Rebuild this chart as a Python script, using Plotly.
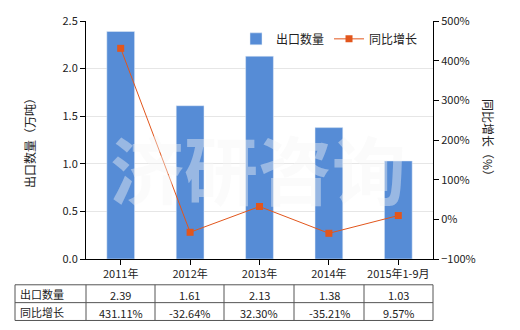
import plotly.graph_objects as go

categories = ["2011年", "2012年", "2013年", "2014年", "2015年1-9月"]
export_qty = [2.39, 1.61, 2.13, 1.38, 1.03]
yoy_growth = [431.11, -32.64, 32.30, -35.21, 9.57]
qty_labels = ["2.39", "1.61", "2.13", "1.38", "1.03"]
yoy_labels = ["431.11%", "-32.64%", "32.30%", "-35.21%", "9.57%"]

W, H = 520, 330
L, R, T, B = 86, 433, 19, 259
FONT = "Noto Sans CJK SC, Microsoft YaHei, sans-serif"
BAR = "#568cd6"
LINE = "#e2561c"

def px(x):
    return (x - L) / (R - L)

def py(y):
    return (B - y) / (B - T)

fig = go.Figure()
fig.add_trace(go.Bar(x=categories, y=export_qty, name="出口数量", marker_color=BAR,
                     width=0.4, yaxis="y"))
fig.add_trace(go.Scatter(x=categories, y=yoy_growth, name="同比增长", mode="lines+markers",
                         line=dict(color=LINE, width=1), marker=dict(symbol="square", size=7, color=LINE),
                         yaxis="y2"))

shapes = []
ann = []
# watermark
ann.append(dict(x=px(258), y=py(166), xref="paper", yref="paper", text="<b>济研咨询</b>", showarrow=False,
                font=dict(family=FONT, size=74, color="rgba(245,245,245,0.42)"), xanchor="center", yanchor="middle"))
# table
cols = [15, 86, 155, 224, 294, 364, 433]
rows = [285, 303, 321]
lc = "#555555"
for r in rows:
    shapes.append(dict(type="line", xref="paper", yref="paper", x0=px(cols[0]), x1=px(cols[-1]), y0=py(r), y1=py(r),
                       line=dict(color=lc, width=1)))
for c in cols:
    shapes.append(dict(type="line", xref="paper", yref="paper", x0=px(c), x1=px(c), y0=py(rows[0]), y1=py(rows[-1]),
                       line=dict(color=lc, width=1)))
row_heads = ["出口数量", "同比增长"]
for i, (h, vals) in enumerate(zip(row_heads, [qty_labels, yoy_labels])):
    yc = (rows[i] + rows[i + 1]) / 2
    ann.append(dict(x=px(cols[0] + 3), y=py(yc), xref="paper", yref="paper", text=h, showarrow=False,
                    xanchor="left", yanchor="middle", font=dict(family=FONT, size=11, color="#222")))
    for j, v in enumerate(vals):
        xc = (cols[j + 1] + cols[j + 2]) / 2
        ann.append(dict(x=px(xc), y=py(yc + 1), xref="paper", yref="paper", text=v, showarrow=False,
                        xanchor="center", yanchor="middle", font=dict(family=FONT, size=11, color="#222")))
# axis titles
ann.append(dict(x=px(29), y=py(139), xref="paper", yref="paper", text="出口数量（万吨）", showarrow=False,
                textangle=-90, font=dict(family=FONT, size=12, color="#222"), xanchor="center", yanchor="middle"))
ann.append(dict(x=px(489), y=py(139), xref="paper", yref="paper", text="同比增长（%）", showarrow=False,
                textangle=90, font=dict(family=FONT, size=12, color="#222"), xanchor="center", yanchor="middle"))

fig.update_layout(
    width=W, height=H,
    margin=dict(l=L, r=W - R, t=T, b=H - B),
    paper_bgcolor="white", plot_bgcolor="white",
    font=dict(family=FONT, size=11, color="#222"),
    showlegend=True,
    legend=dict(orientation="h", x=px(236), y=py(37), xanchor="left", yanchor="middle",
                font=dict(family=FONT, size=12, color="#222"), bgcolor="rgba(0,0,0,0)",
                itemwidth=30, traceorder="normal"),
    xaxis=dict(showline=True, linecolor="black", linewidth=1, ticks="outside", ticklen=5,
               tickcolor="black", showgrid=False, tickfont=dict(size=11)),
    yaxis=dict(range=[0, 2.5], dtick=0.5, tickformat=".1f", showline=True, linecolor="black", ticks="outside",
               ticklen=5, tickcolor="black", showgrid=True, gridcolor="#e6e6e6", zeroline=False,
               tickfont=dict(size=11)),
    yaxis2=dict(range=[-100, 500], dtick=100, ticksuffix="%", overlaying="y", side="right", showline=True,
                linecolor="black", ticks="outside", ticklen=5, tickcolor="black", showgrid=False,
                zeroline=False, tickfont=dict(size=11)),
    shapes=shapes, annotations=ann,
    bargap=0.6,
)
fig.write_html("out.html")
